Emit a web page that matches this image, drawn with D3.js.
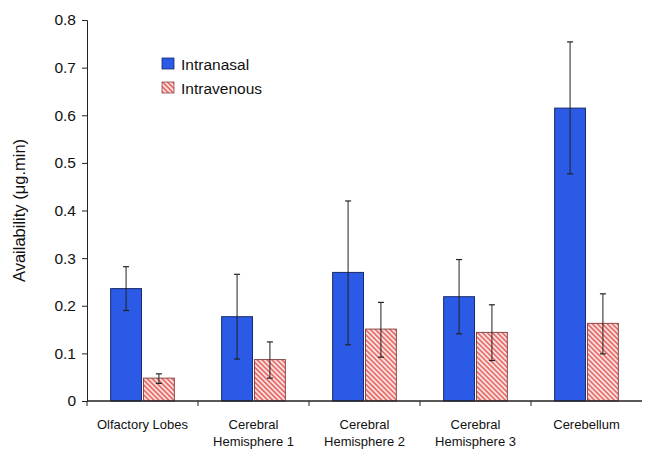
<!DOCTYPE html>
<html><head><meta charset="utf-8">
<script src="https://cdn.jsdelivr.net/npm/d3@7"></script>
<style>body{margin:0;background:#fff}svg{display:block}text{font-family:"Liberation Sans",Arial,sans-serif;fill:#111}</style>
</head><body><svg id="c" width="645" height="451"></svg>
<script>
const categories = ["Olfactory Lobes","Cerebral\nHemisphere 1","Cerebral\nHemisphere 2","Cerebral\nHemisphere 3","Cerebellum"];
const seriesNames = ["Intranasal","Intravenous"];
const intranasal = [0.236,0.177,0.270,0.219,0.615];
const intranasalHi = [0.282,0.266,0.420,0.297,0.754];
const intranasalLo = [0.190,0.088,0.118,0.141,0.477];
const intravenous = [0.048,0.087,0.151,0.144,0.163];
const intravenousHi = [0.057,0.124,0.207,0.202,0.225];
const intravenousLo = [0.037,0.048,0.092,0.085,0.099];
const yTicks = [0,0.1,0.2,0.3,0.4,0.5,0.6,0.7,0.8];

const svg = d3.select("#c");
const m = {l:87, r:3, t:20, b:50};
const W = 645, H = 451;
const defs = svg.append("defs");
const pat = defs.append("pattern").attr("id","hatch").attr("patternUnits","userSpaceOnUse")
  .attr("width",3.5).attr("height",3.5).attr("patternTransform","rotate(-45)");
pat.append("rect").attr("width",3.5).attr("height",3.5).attr("fill","#fbe6e6");
pat.append("rect").attr("width",1.8).attr("height",3.5).attr("fill","#e8706c");

const x = d3.scaleBand().domain(categories).range([m.l, W-m.r]).paddingInner(0).paddingOuter(0);
const y = d3.scaleLinear().domain([0,0.8]).range([H-m.b, m.t]);
const inner = d3.scaleBand().domain(seriesNames).range([0, x.bandwidth()]).paddingInner(0.06).paddingOuter(0.72);

const series = [
  {name:"Intranasal", vals:intranasal, hi:intranasalHi, lo:intranasalLo, fill:"#2b5be6", stroke:"#1a2a6a"},
  {name:"Intravenous", vals:intravenous, hi:intravenousHi, lo:intravenousLo, fill:"url(#hatch)", stroke:"#8a4a4a"}
];

series.forEach(s=>{
  const g = svg.append("g");
  categories.forEach((c,i)=>{
    const bx = x(c)+inner(s.name), bw = inner.bandwidth();
    g.append("rect").attr("x",bx).attr("y",y(s.vals[i])).attr("width",bw).attr("height",y(0)-y(s.vals[i]))
      .attr("fill",s.fill).attr("stroke",s.stroke).attr("stroke-width",1);
    const cx = bx+bw/2;
    g.append("line").attr("x1",cx).attr("x2",cx).attr("y1",y(s.hi[i])).attr("y2",y(s.lo[i])).attr("stroke","#222").attr("stroke-width",1);
    [s.hi[i], s.lo[i]].forEach(v=>g.append("line").attr("x1",cx-3).attr("x2",cx+3).attr("y1",y(v)).attr("y2",y(v)).attr("stroke","#222").attr("stroke-width",1.2));
  });
});

// axes
const ya = svg.append("g").attr("transform",`translate(${m.l},0)`)
  .call(d3.axisLeft(y).tickValues(yTicks).tickSize(5).tickFormat(d=>d===0?"0":d3.format(".1f")(d)));
ya.select(".domain").attr("stroke","#222");
ya.selectAll(".tick line").attr("stroke","#222");
ya.selectAll("text").attr("font-size",15.5).attr("dx",-3).style("font-family","Liberation Sans, Arial, sans-serif");

const xa = svg.append("g").attr("transform",`translate(0,${y(0)})`);
xa.append("line").attr("x1",m.l).attr("x2",W-m.r).attr("stroke","#222").attr("stroke-width",1.5);
categories.forEach((c,i)=>{
  xa.append("line").attr("x1",x(c)).attr("x2",x(c)).attr("y1",0).attr("y2",5).attr("stroke","#222");
  const lines = c.split("\n");
  const t = xa.append("text").attr("text-anchor","middle").attr("font-size",13)
    .attr("x",x(c)+x.bandwidth()/2).attr("y",28);
  lines.forEach((ln,j)=>t.append("tspan").attr("x",x(c)+x.bandwidth()/2).attr("dy",j?17:0).text(ln));
});

svg.append("text").attr("transform",`translate(25,${(m.t+y(0))/2}) rotate(-90)`).attr("text-anchor","middle")
  .attr("font-size",16.5).text("Availability (μg.min)");

// legend
const lg = svg.append("g").attr("transform","translate(162,58)");
series.forEach((s,i)=>{
  lg.append("rect").attr("x",0).attr("y",i*24).attr("width",12).attr("height",11).attr("fill",s.fill).attr("stroke",s.stroke).attr("stroke-width",0.8);
  lg.append("text").attr("x",19).attr("y",i*24+11.5).attr("font-size",15.5).text(s.name);
});
</script></body></html>
